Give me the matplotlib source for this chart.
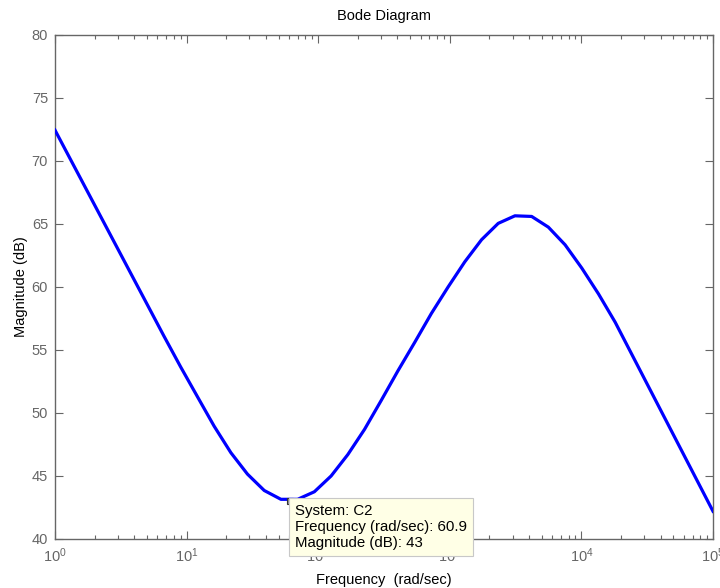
import matplotlib
matplotlib.use("Agg")
import matplotlib.pyplot as plt
import numpy as np
from matplotlib.ticker import LogLocator, FixedLocator, NullFormatter

plt.rcParams['font.family'] = ['Liberation Sans', 'DejaVu Sans']
plt.rcParams['mathtext.fontset'] = 'custom'
plt.rcParams['mathtext.rm'] = 'Liberation Sans'
plt.rcParams['mathtext.it'] = 'Liberation Sans'

# datos (frecuencia en rad/s, magnitud en dB)
freq = [1, 6.73, 9.02, 12.08, 16.2, 21.7, 29.0, 38.9, 52.1, 69.8, 93.5,
        125.3, 167.9, 224.9, 301.3, 403.6, 540.8, 724.4, 970.5, 1300, 1742,
        2333, 3126, 4188, 5610, 7516, 10070, 13490, 18070, 100000]
mag = [72.45, 56.1, 53.65, 51.3, 48.95, 46.85, 45.15, 43.85, 43.15, 43.15, 43.75,
       45.0, 46.7, 48.7, 51.0, 53.35, 55.6, 57.9, 60.0, 62.0, 63.75,
       65.05, 65.65, 65.6, 64.75, 63.35, 61.5, 59.45, 57.2, 42.2]
y_ticks = [40, 45, 50, 55, 60, 65, 70, 75, 80]
tip_freq = 60.9
tip_mag = 43
tip_text = "System: C2\nFrequency (rad/sec): 60.9\nMagnitude (dB): 43"

gris = '#666666'

fig = plt.figure(figsize=(7.2, 5.88), dpi=100)
ax = fig.add_axes([55 / 720, 49 / 588, 658 / 720, 504 / 588])

ax.semilogx(freq, mag, color=(0, 0, 1), lw=2.3, zorder=3)

ax.set_xlim(1, 1e5)
ax.set_ylim(40, 80)
ax.yaxis.set_major_locator(FixedLocator(y_ticks))
ax.xaxis.set_major_locator(LogLocator(base=10, numticks=10))
ax.xaxis.set_minor_locator(LogLocator(base=10, subs=np.arange(2, 10), numticks=20))
ax.xaxis.set_minor_formatter(NullFormatter())

ax.tick_params(which='both', direction='in', top=True, right=True,
               colors=gris, labelsize=10.5, width=0.8)
ax.tick_params(which='major', length=6, pad=5)
ax.tick_params(which='minor', length=3)
for s in ax.spines.values():
    s.set_color(gris)
    s.set_linewidth(1.0)

ax.set_title("Bode Diagram", fontsize=10.5, pad=11)
ax.set_xlabel("Frequency  (rad/sec)", fontsize=10.5, labelpad=6)
ax.set_ylabel("Magnitude (dB)", fontsize=10.5, labelpad=3)

# data tip
ax.plot(tip_freq, tip_mag, 's', ms=5, mfc='#8c8c8c', mec='#333333', mew=0.8,
        zorder=6, clip_on=False)
ax.annotate(tip_text, xy=(tip_freq, tip_mag), xytext=(4.0, -2.0),
            textcoords='offset points', ha='left', va='top', fontsize=10.8,
            linespacing=1.17, color='black', zorder=7, annotation_clip=False,
            bbox=dict(boxstyle='square,pad=0.4', fc='#FFFFE6', ec='#c8c8c8', lw=0.8))

fig.savefig("out.png", dpi=100)
